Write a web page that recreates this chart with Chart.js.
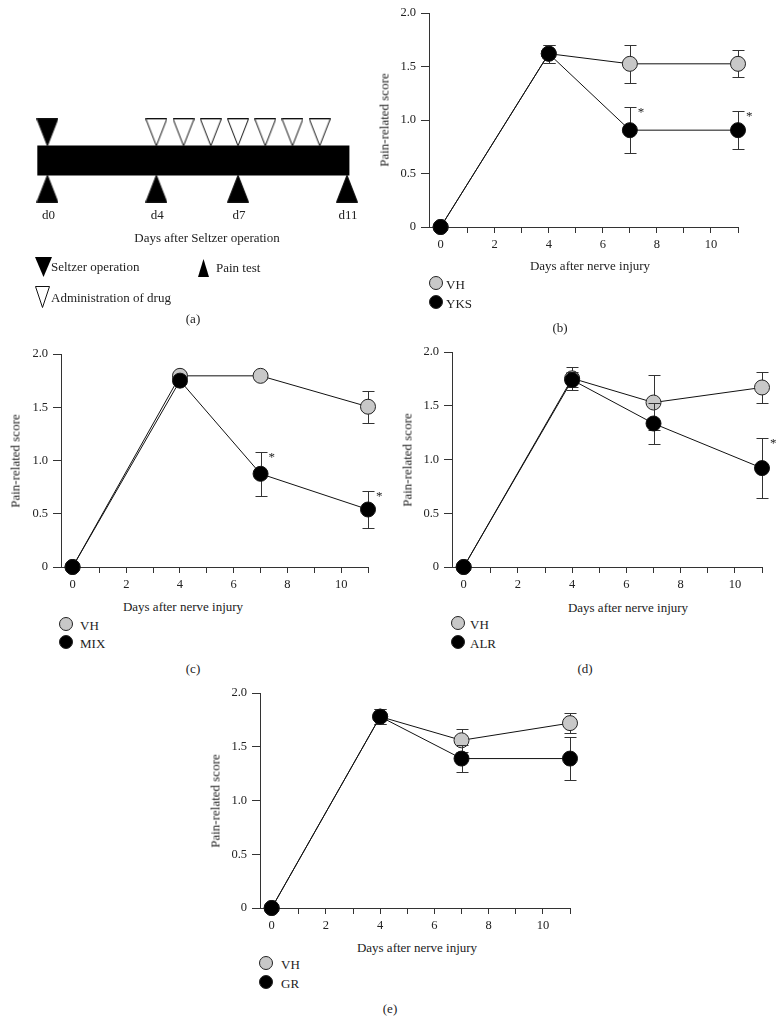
<!DOCTYPE html>
<html>
<head>
<meta charset="utf-8">
<script src="https://cdn.jsdelivr.net/npm/chart.js@4.4.1/dist/chart.umd.min.js"></script>
<style>
  html, body { margin: 0; padding: 0; background: #fff; }
  body { width: 784px; height: 1022px; position: relative; overflow: hidden;
         font-family: 'Liberation Serif', 'DejaVu Serif', serif; color: #222; }
  canvas { position: absolute; }
  .t { position: absolute; font-size: 13px; white-space: nowrap; transform: translate(-50%, -50%); line-height: 1; }
  .rot { transform: translate(-50%, -50%) rotate(-90deg); }
  .lt { position: absolute; font-size: 13px; white-space: nowrap; transform: translateY(-50%); line-height: 1; }
  .dot { position: absolute; width: 14px; height: 14px; border-radius: 50%; border: 1px solid #222;
         transform: translate(-50%, -50%); box-sizing: border-box; }
  svg { position: absolute; overflow: visible; }
</style>
</head>
<body>
<canvas id="ca" width="390" height="130" style="left:0px;top:100px;width:390px;height:130px"></canvas>
<canvas id="cb"></canvas>
<canvas id="cc"></canvas>
<canvas id="cd"></canvas>
<canvas id="ce"></canvas>

<!-- panel (a) texts -->
<div class="t" style="left:207px;top:237px">Days after Seltzer operation</div>
<svg style="left:35px;top:257px" width="17" height="20"><polygon points="0,0 17,0 8.5,20" fill="#000"/></svg>
<div class="lt" style="left:51px;top:266px">Seltzer operation</div>
<svg style="left:198px;top:259px" width="11" height="18"><polygon points="5.5,0 11,18 0,18" fill="#000"/></svg>
<div class="lt" style="left:216px;top:267px">Pain test</div>
<svg style="left:35px;top:286px" width="15" height="22"><polygon points="0.5,0.5 14.5,0.5 7.5,21.5" fill="#fff" stroke="#111" stroke-width="1"/></svg>
<div class="lt" style="left:51px;top:297px">Administration of drug</div>
<div class="t" style="left:193px;top:318px">(a)</div>

<!-- panel labels, axis titles, legends -->
<div id="overlay"></div>

<script>
// ---------------- DATA ----------------
const days = [0, 4, 7, 11];
const xTickValues = [0, 1, 2, 3, 4, 5, 6, 7, 8, 9, 10, 11];
const yTickValues = [0, 0.5, 1.0, 1.5, 2.0];

// panel (b): VH vs YKS
const vhB = [0, 1.62, 1.525, 1.525];
const vhBErr = [0, 0.085, 0.175, 0.125];
const yksB = [0, 1.62, 0.905, 0.905];
const yksBErr = [0, 0.085, 0.215, 0.175];
const yksBSig = [false, false, true, true];

// panel (c): VH vs MIX
const vhC = [0, 1.795, 1.795, 1.505];
const vhCErr = [0, 0.04, 0.03, 0.15];
const mixC = [0, 1.75, 0.875, 0.54];
const mixCErr = [0, 0.03, 0.205, 0.178];
const mixCSig = [false, false, true, true];

// panel (d): VH vs ALR
const vhD = [0, 1.755, 1.53, 1.67];
const vhDErr = [0, 0.105, 0.255, 0.145];
const alrD = [0, 1.74, 1.335, 0.92];
const alrDErr = [0, 0.07, 0.195, 0.278];
const alrDSig = [false, false, false, true];

// panel (e): VH vs GR
const vhE = [0, 1.78, 1.56, 1.72];
const vhEErr = [0, 0.07, 0.108, 0.095];
const grE = [0, 1.78, 1.39, 1.39];
const grEErr = [0, 0.07, 0.128, 0.2];
const grESig = [false, false, false, false];

// panel (a): schedule
const timelineStart = -0.37;
const timelineEnd = 11.09;
const operationDays = [0];
const drugDays = [4, 5, 6, 7, 8, 9, 10];
const painTestDays = [0, 4, 7, 11];
const axisTitle = 'Days after nerve injury';
const yTitle = 'Pain-related score';

// ---------------- STYLE ----------------
const FONT = "'Liberation Serif', 'DejaVu Serif', serif";
const INK = '#222';
const VH_FILL = '#c8c8c8';

// ---------------- PANEL (a) ----------------
function triImg(dir, fill) {
  const c = document.createElement('canvas');
  c.width = 22; c.height = 28;
  const g = c.getContext('2d');
  g.beginPath();
  if (dir === 'down') { g.moveTo(0.5, 0.5); g.lineTo(21.5, 0.5); g.lineTo(11, 27.5); }
  else { g.moveTo(11, 0.5); g.lineTo(21.5, 27.5); g.lineTo(0.5, 27.5); }
  g.closePath();
  g.fillStyle = fill; g.fill();
  g.strokeStyle = '#111'; g.lineWidth = 1; g.stroke();
  return c;
}
const dayLabelPlugin = {
  id: 'dayLabels',
  afterDraw(chart) {
    const ctx = chart.ctx, xs = chart.scales.x, ys = chart.scales.y;
    ctx.save();
    ctx.font = '13px ' + FONT; ctx.fillStyle = INK;
    ctx.textAlign = 'center'; ctx.textBaseline = 'middle';
    painTestDays.forEach(d => ctx.fillText('d' + d, xs.getPixelForValue(d) + 1, ys.getPixelForValue(-1) + 27));
    ctx.restore();
  }
};
new Chart(document.getElementById('ca'), {
  type: 'scatter',
  data: { datasets: [
    { data: operationDays.map(d => ({x: d, y: 1})), pointStyle: triImg('down', '#000'), pointRadius: 5, clip: false },
    { data: drugDays.map(d => ({x: d, y: 1})), pointStyle: triImg('down', '#fff'), pointRadius: 5, clip: false },
    { data: painTestDays.map(d => ({x: d, y: -1})), pointStyle: triImg('up', '#000'), pointRadius: 5, clip: false },
    { data: [{x: timelineStart, y: 0}, {x: timelineEnd, y: 0}], showLine: true, borderColor: '#000',
      borderWidth: 30, borderCapStyle: 'butt', pointRadius: 0, clip: false }
  ]},
  options: {
    responsive: false, animation: false, events: [],
    layout: { padding: 0 },
    plugins: { legend: { display: false }, tooltip: { enabled: false } },
    scales: {
      x: { type: 'linear', display: false, min: -1.52, max: 12.36 },
      y: { type: 'linear', display: false, min: -2.258, max: 1.935 }
    }
  },
  plugins: [dayLabelPlugin]
});

// ---------------- LINE PANELS ----------------
const errorPlugin = {
  id: 'errorBars',
  // each dataset's error bars are drawn just before that dataset's line and markers
  beforeDatasetDraw(chart, args) {
    const ctx = chart.ctx, xs = chart.scales.x, ys = chart.scales.y;
    const ds = chart.data.datasets[args.index];
    ctx.save();
    ctx.strokeStyle = '#333'; ctx.lineWidth = 1;
    ds.data.forEach((p, i) => {
      const e = ds.errors[i];
      if (!e) return;
      const x = Math.round(xs.getPixelForValue(p.x)) + 0.5;
      const y1 = Math.round(ys.getPixelForValue(p.y + e)) + 0.5;
      const y2 = Math.round(ys.getPixelForValue(p.y - e)) + 0.5;
      ctx.beginPath();
      ctx.moveTo(x, y1); ctx.lineTo(x, y2);
      ctx.moveTo(x - 6, y1); ctx.lineTo(x + 6, y1);
      ctx.moveTo(x - 6, y2); ctx.lineTo(x + 6, y2);
      ctx.stroke();
    });
    ctx.restore();
  },
  afterDatasetsDraw(chart) {
    const ctx = chart.ctx, xs = chart.scales.x, ys = chart.scales.y;
    ctx.save();
    ctx.font = '13px ' + FONT; ctx.fillStyle = INK;
    ctx.textAlign = 'left'; ctx.textBaseline = 'alphabetic';
    chart.data.datasets.forEach(ds => {
      if (!ds.sig) return;
      ds.data.forEach((p, i) => {
        if (!ds.sig[i]) return;
        const x = xs.getPixelForValue(p.x) + 8;
        const y = ys.getPixelForValue(p.y + ds.errors[i]);
        ctx.fillText('*', x, y + 9);
      });
    });
    ctx.restore();
  }
};

function makePanel(id, g, vh, vhErr, drug, drugErr, drugSig) {
  const cv = document.getElementById(id);
  const Y_W = 60, X_H = 30, PT = 15, PR = 22;
  const w = g.R - g.L + Y_W + PR, h = g.B - g.T + PT + X_H;
  cv.width = w; cv.height = h;
  cv.style.left = (g.L - Y_W) + 'px'; cv.style.top = (g.T - PT) + 'px';
  cv.style.width = w + 'px'; cv.style.height = h + 'px';
  const pts = vals => days.map((d, i) => ({x: d, y: vals[i]}));
  new Chart(cv, {
    type: 'scatter',
    data: { datasets: [
      { data: pts(drug), errors: drugErr, sig: drugSig, showLine: true, order: 0,
        borderColor: '#111', borderWidth: 1, pointRadius: 7.5, pointBackgroundColor: '#000',
        pointBorderColor: '#111', pointBorderWidth: 1, clip: false },
      { data: pts(vh), errors: vhErr, showLine: true, order: 1,
        borderColor: '#111', borderWidth: 1, pointRadius: 7.5, pointBackgroundColor: VH_FILL,
        pointBorderColor: '#222', pointBorderWidth: 1, clip: false }
    ]},
    options: {
      responsive: false, animation: false, events: [],
      layout: { padding: { top: PT, right: PR, left: 0, bottom: 0 } },
      plugins: { legend: { display: false }, tooltip: { enabled: false } },
      scales: {
        x: {
          type: 'linear', min: -0.43, max: 11,
          afterBuildTicks: s => { s.ticks = xTickValues.map(v => ({value: v})); },
          afterFit: s => { s.height = X_H; },
          grid: { drawOnChartArea: false, drawTicks: true, tickLength: 6, color: '#333', tickColor: '#333' },
          border: { display: true, color: '#333', width: 1 },
          ticks: { color: INK, font: { family: FONT, size: 12.5 }, padding: 4, maxRotation: 0, autoSkip: false,
                   callback: v => (v % 2 === 0 && v <= 10) ? String(v) : '' }
        },
        y: {
          type: 'linear', min: 0, max: 2,
          afterBuildTicks: s => { s.ticks = yTickValues.map(v => ({value: v})); },
          afterFit: s => { s.width = Y_W; },
          grid: { drawOnChartArea: false, drawTicks: true, tickLength: 8, color: '#333', tickColor: '#333' },
          border: { display: true, color: '#333', width: 1 },
          ticks: { color: INK, font: { family: FONT, size: 12.5 }, padding: 5,
                   callback: v => v === 0 ? '0' : v.toFixed(1) }
        }
      }
    },
    plugins: [errorPlugin]
  });
}

const geo = {
  b: {L: 429, R: 738, T: 13, B: 227},
  c: {L: 61, R: 368, T: 354, B: 567},
  d: {L: 452, R: 762, T: 352, B: 567},
  e: {L: 260, R: 570, T: 693, B: 908}
};
makePanel('cb', geo.b, vhB, vhBErr, yksB, yksBErr, yksBSig);
makePanel('cc', geo.c, vhC, vhCErr, mixC, mixCErr, mixCSig);
makePanel('cd', geo.d, vhD, vhDErr, alrD, alrDErr, alrDSig);
makePanel('ce', geo.e, vhE, vhEErr, grE, grEErr, grESig);

// ---------------- OVERLAY TEXT ----------------
const overlay = document.getElementById('overlay');
function addDiv(cls, x, y, text, extra) {
  const d = document.createElement('div');
  d.className = cls; d.style.left = x + 'px'; d.style.top = y + 'px';
  if (text) d.textContent = text;
  if (extra) Object.assign(d.style, extra);
  overlay.appendChild(d);
}
const panelText = [
  {g: geo.b, xt: [590, 265], yt: 384, leg: [436, 283, 302, 446], drugName: 'YKS', lab: '(b)', labPos: [560, 327]},
  {g: geo.c, xt: [183, 606], yt: 15,  leg: [66, 624, 642, 80],  drugName: 'MIX', lab: '(c)', labPos: [193, 668]},
  {g: geo.d, xt: [628, 607], yt: 407, leg: [458, 623, 642, 470], drugName: 'ALR', lab: '(d)', labPos: [585, 668]},
  {g: geo.e, xt: [417, 947], yt: 215, leg: [266, 963, 982, 281], drugName: 'GR', lab: '(e)', labPos: [390, 1008]}
];
panelText.forEach(p => {
  addDiv('t', p.xt[0], p.xt[1], axisTitle);
  addDiv('t rot', p.yt, (p.g.T + p.g.B) / 2, yTitle);
  addDiv('dot', p.leg[0], p.leg[1], '', {background: VH_FILL});
  addDiv('dot', p.leg[0], p.leg[2], '', {background: '#000'});
  addDiv('lt', p.leg[3], p.leg[1] + 1, 'VH');
  addDiv('lt', p.leg[3], p.leg[2] + 1, p.drugName);
  addDiv('t', p.labPos[0], p.labPos[1], p.lab);
});
</script>
</body>
</html>
